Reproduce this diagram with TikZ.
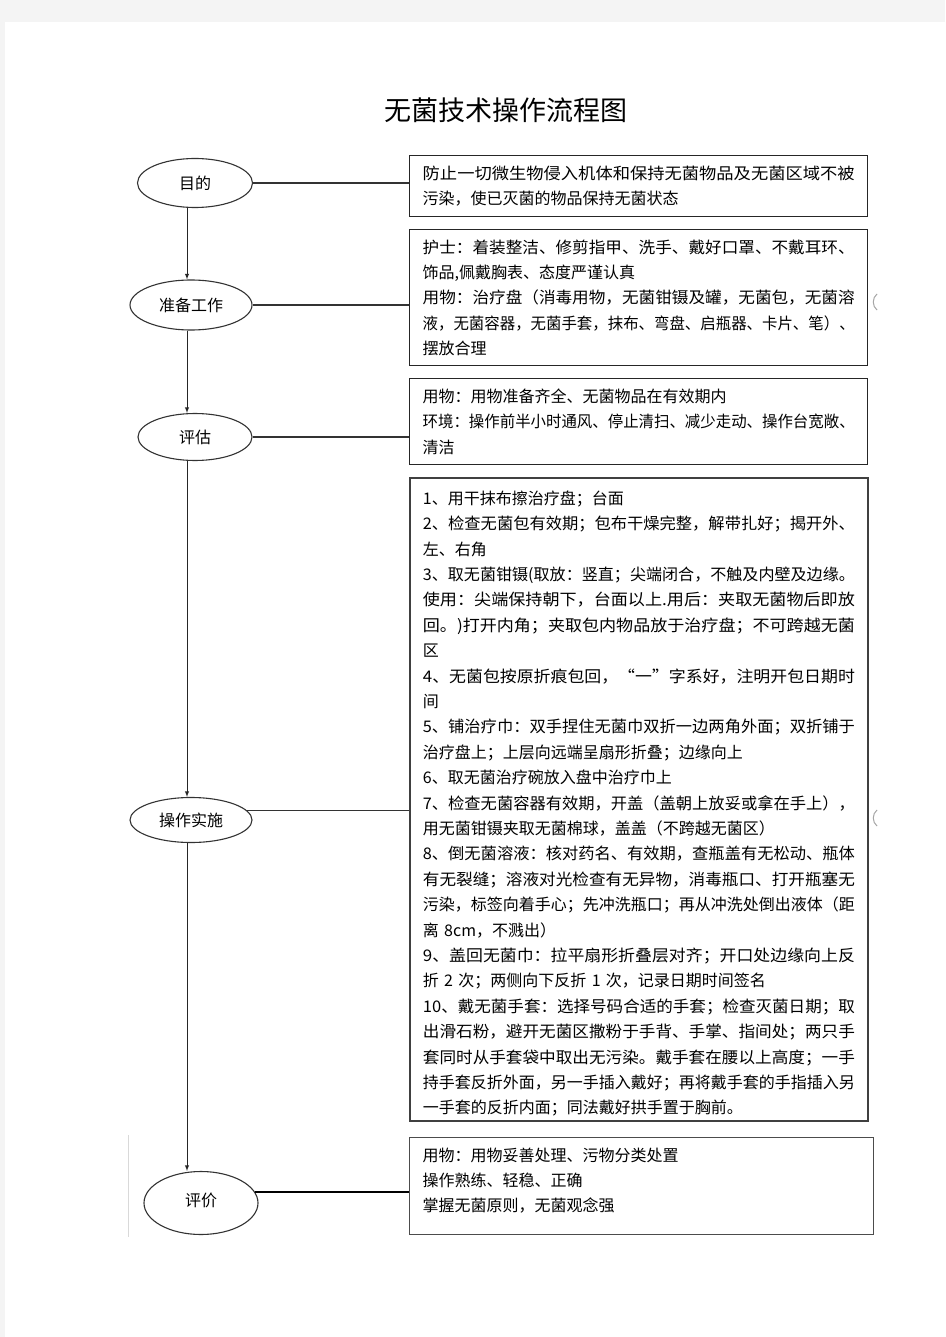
\documentclass[tikz,border=0pt]{standalone}
\usepackage{fontspec}
\setmainfont{Noto Sans CJK SC}
\usepackage{graphicx}
\usepackage{xcolor}
\usetikzlibrary{shapes.geometric}
\definecolor{pagegray}{HTML}{F4F4F4}
\newlength{\txtw}
\setlength{\txtw}{432pt}
\newcommand{\fl}[1]{\resizebox{\txtw}{\height}{#1}}

\begin{document}
\begin{tikzpicture}[x=1pt,y=-1pt,
    oval/.style={draw=black!80, line width=1.1pt, ellipse, inner sep=0pt, font=\fontsize{16}{20}\selectfont},
    textbox/.style={draw=black!85, line width=1.4pt, anchor=north west, inner xsep=13pt, inner ysep=0pt,
                    text width=\txtw, align=left, font=\fontsize{16}{25.4}\selectfont},
    link/.style={black!80, line width=1.1pt},
    flow/.style={black!85, line width=0.9pt, -latex}]
            \useasboundingbox (0,0) rectangle (945,1337);
            \fill[pagegray] (0,0) rectangle (945,1337);
            \fill[white] (5,22) rectangle (945,1337);
            \node[font=\fontsize{27}{30}\selectfont] (title) at (506,110) {无菌技术操作流程图};
            % left column
            \node[oval, minimum width=115, minimum height=49] (aim) at (195,183) {目的};
            \node[oval, minimum width=122, minimum height=50] (prep) at (191,305) {准备工作};
            \node[oval, minimum width=114, minimum height=47] (assess) at (195,437) {评估};
            \node[oval, minimum width=122, minimum height=45] (impl) at (191,820) {操作实施};
            \node[oval, minimum width=114, minimum height=63] (eval) at (201,1203) {\raisebox{6pt}{评价}};
            % right column
            \node[textbox, minimum height=61] (aimbox) at (409,155)
                {\fl{防止一切微生物侵入机体和保持无菌物品及无菌区域不被}\\
                 污染，使已灭菌的物品保持无菌状态};
            \node[textbox, minimum height=136] (prepbox) at (409,229)
                {\fl{护士：着装整洁、修剪指甲、洗手、戴好口罩、不戴耳环、}\\
                 饰品,佩戴胸表、态度严谨认真\\
                 \fl{用物：治疗盘（消毒用物，无菌钳镊及罐，无菌包，无菌溶}\\
                 \fl{液，无菌容器，无菌手套，抹布、弯盘、启瓶器、卡片、笔）、}\\
                 摆放合理};
            \node[textbox, minimum height=86] (assessbox) at (409,378)
                {用物：用物准备齐全、无菌物品在有效期内\\
                 \fl{环境：操作前半小时通风、停止清扫、减少走动、操作台宽敞、}\\
                 清洁};
            \node[textbox, minimum height=643, line width=1.8pt, draw=black!75] (implbox) at (409,477)
                {\rule{0pt}{22pt}1、用干抹布擦治疗盘；台面\\
                 \fl{2、检查无菌包有效期；包布干燥完整，解带扎好；揭开外、}\\
                 左、右角\\
                 \fl{3、取无菌钳镊(取放：竖直；尖端闭合，不触及内壁及边缘。}\\
                 \fl{使用：尖端保持朝下，台面以上.用后：夹取无菌物后即放}\\
                 \fl{回。)打开内角；夹取包内物品放于治疗盘；不可跨越无菌}\\
                 区\\
                 \fl{4、无菌包按原折痕包回，“一”字系好，注明开包日期时}\\
                 间\\
                 \fl{5、铺治疗巾：双手捏住无菌巾双折一边两角外面；双折铺于}\\
                 治疗盘上；上层向远端呈扇形折叠；边缘向上\\
                 6、取无菌治疗碗放入盘中治疗巾上\\
                 \fl{7、检查无菌容器有效期，开盖（盖朝上放妥或拿在手上），}\\
                 用无菌钳镊夹取无菌棉球，盖盖（不跨越无菌区）\\
                 \fl{8、倒无菌溶液：核对药名、有效期，查瓶盖有无松动、瓶体}\\
                 \fl{有无裂缝；溶液对光检查有无异物，消毒瓶口、打开瓶塞无}\\
                 \fl{污染，标签向着手心；先冲洗瓶口；再从冲洗处倒出液体（距}\\
                 离 8cm，不溅出）\\
                 \fl{9、盖回无菌巾：拉平扇形折叠层对齐；开口处边缘向上反}\\
                 折 2 次；两侧向下反折 1 次，记录日期时间签名\\
                 \fl{10、戴无菌手套：选择号码合适的手套；检查灭菌日期；取}\\
                 \fl{出滑石粉，避开无菌区撒粉于手背、手掌、指间处；两只手}\\
                 \fl{套同时从手套袋中取出无污染。戴手套在腰以上高度；一手}\\
                 持手套反折外面，另一手插入戴好；再将戴手套的手指插入另\\
                 一手套的反折内面；同法戴好拱手置于胸前。};
            \node[textbox, minimum height=97, text width=438pt, draw=black!70] (evalbox) at (409,1137)
                {用物：用物妥善处理、污物分类处置\\
                 操作熟练、轻稳、正确\\
                 掌握无菌原则，无菌观念强\rule[-13pt]{0pt}{13pt}};
            % connectors
            \coordinate (spine) at (187,0);
            \draw[flow] (aim.south -| spine) -- (prep.north -| spine);
            \draw[flow] (prep.south -| spine) -- (assess.north -| spine);
            \draw[flow] (assess.south -| spine) -- (impl.north -| spine);
            \draw[flow] (impl.south -| spine) -- (eval.north -| spine);
            \draw[link] (aim.east) -- (aim.east -| aimbox.west);
            \draw[link] (prep.east) -- (prep.east -| prepbox.west);
            \draw[link] (assess.east) -- (assess.east -| assessbox.west);
            \draw[link] (impl.10) -- (impl.10 -| implbox.west);
            \draw[link, line width=2pt, black] (eval.12) -- (eval.12 -| evalbox.west);
            % scan marks
            \draw[black!15] (128,1135) -- (128,1237);
            \draw[black!35, line width=1pt] (877,294) .. controls (872,298) and (872,306) .. (877,310);
            \draw[black!35, line width=1pt] (877,810) .. controls (872,814) and (872,822) .. (877,826);
\end{tikzpicture}
\end{document}
